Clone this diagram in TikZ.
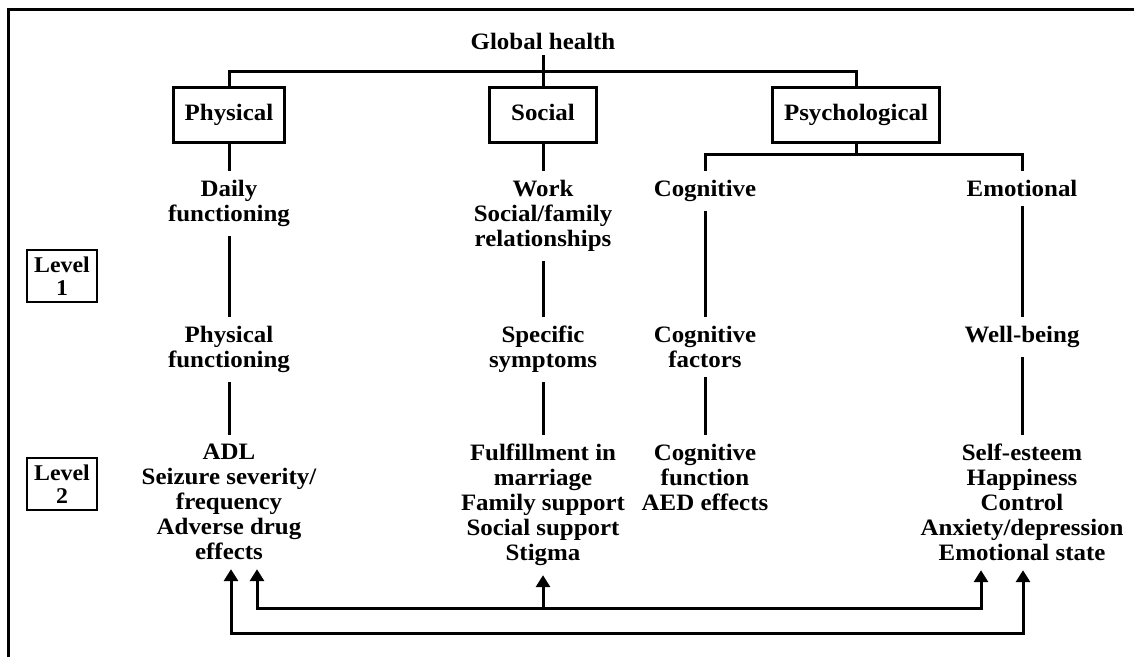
\documentclass[tikz,border=0pt]{standalone}
\usepackage{fontspec}
\setmainfont{Liberation Serif}[FakeStretch=1.06]
\usetikzlibrary{arrows.meta}
\tikzset{ftri/.tip={Triangle[width=14pt,length=12pt]}}
\begin{document}
\begin{tikzpicture}[x=1pt,y=-1pt,
  lblfont/.style={font=\fontsize{23.5}{25}\selectfont\bfseries},
  txt/.style={lblfont, align=center, inner xsep=2pt, inner ysep=9pt, anchor=north},
  catbox/.style={lblfont, draw, line width=3pt, minimum height=55pt, inner sep=0pt, text height=16pt, text depth=5pt},
  lvlbox/.style={draw, line width=2.6pt, minimum width=70pt, minimum height=52pt, inner sep=0pt, align=center, font=\fontsize{22.5}{23}\selectfont\bfseries},
  conn/.style={line width=3pt}
]
\useasboundingbox (0,0) rectangle (1134,657);
% frame
\draw[line width=3pt] (8,657) -- (8,9) -- (1134,9);

% top level
\node[lblfont, inner xsep=3pt, inner ysep=6pt] (gh) at (543,41) {Global health};
\node[catbox, minimum width=111pt] (phys) at (229,114.5) {Physical};
\node[catbox, minimum width=107pt] (soc) at (543,114.5) {Social};
\node[catbox, minimum width=167pt] (psy) at (856,114.5) {Psychological};

\draw[conn] (gh.south) -- (soc.north);
\draw[conn] (phys.north) -- ++(0,-14) -| (psy.north);

% level 1 row
\node[txt] (daily) at (229,171) {Daily\\functioning};
\node[txt] (work) at (543,171) {Work\\Social/family\\relationships};
\node[txt] (cog) at (705,171) {Cognitive};
\node[txt] (emo) at (1022,171) {Emotional};

% second row
\node[txt] (physf) at (229,317) {Physical\\functioning};
\node[txt] (spec) at (543,317) {Specific\\symptoms};
\node[txt] (cogf) at (705,317) {Cognitive\\factors};
\node[txt] (well) at (1022,317) {Well-being};

% level 2 row
\node[txt] (adl) at (229,435) {ADL\\Seizure severity/\\frequency\\Adverse drug\\effects};
\node[txt] (fulf) at (543,435) {Fulfillment in\\marriage\\Family support\\Social support\\Stigma};
\node[txt] (cogfn) at (705,435) {Cognitive\\function\\AED effects};
\node[txt] (self) at (1022,435) {Self-esteem\\Happiness\\Control\\Anxiety/depression\\Emotional state};

% level boxes
\node[lvlbox] (lv1) at (62,276) {Level\\1};
\node[lvlbox] (lv2) at (62,484) {Level\\2};

% column connectors
\draw[conn] (phys.south) -- (daily.north);
\draw[conn] (daily.south) -- (physf.north);
\draw[conn] (physf.south) -- (adl.north);

\draw[conn] (soc.south) -- (work.north);
\draw[conn] (work.south) -- (spec.north);
\draw[conn] (spec.south) -- (fulf.north);

\draw[conn] (psy.south) -- ++(0,11) coordinate (pj);
\draw[conn] (cog.north) |- (pj) -| (emo.north);
\draw[conn] (cog.south) -- (cogf.north);
\draw[conn] (cogf.south) -- (cogfn.north);
\draw[conn] (emo.south) -- (well.north);
\draw[conn] (well.south) -- (self.north);

% feedback arrows
\coordinate (in1) at (257,608);
\coordinate (in2) at (981,608);
\coordinate (out1) at (231,633);
\coordinate (out2) at (1023,633);
\draw[conn, {ftri}-{ftri}] (in1 |- adl.south) -- (in1) -- (in2) -- (in2 |- self.south);
\draw[conn, -{ftri}] (fulf.south |- in1) -- (fulf.south);
\draw[conn, {ftri}-{ftri}] (out1 |- adl.south) -- (out1) -- (out2) -- (out2 |- self.south);
\end{tikzpicture}
\end{document}
